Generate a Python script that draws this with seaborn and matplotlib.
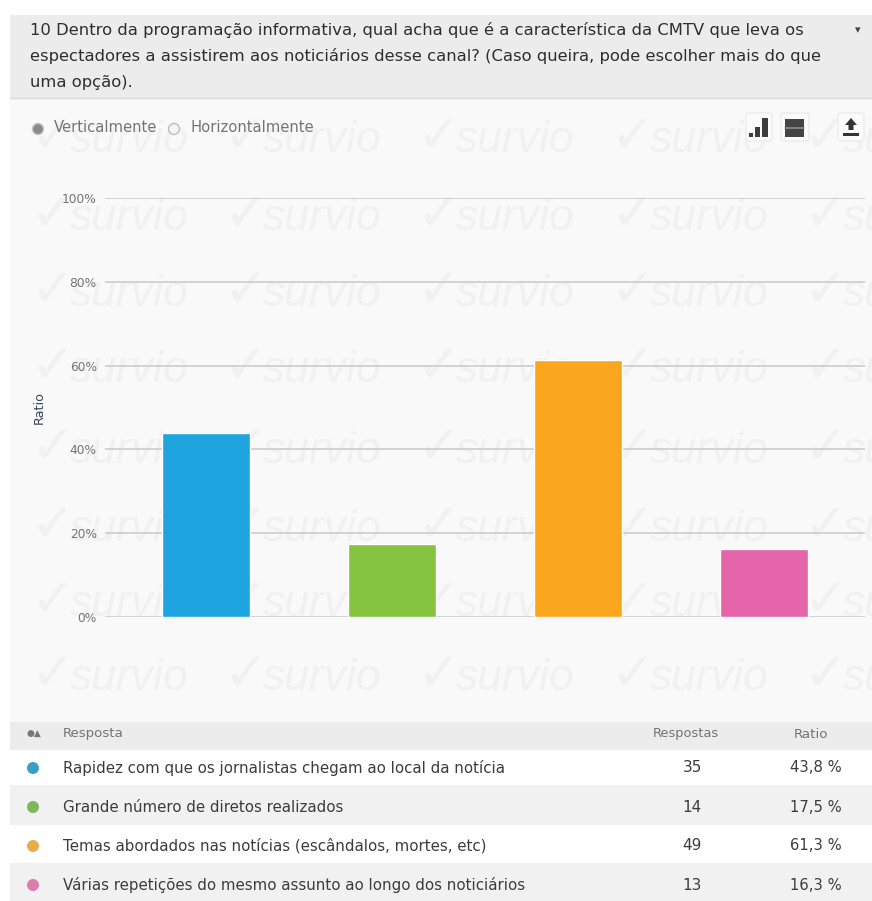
import matplotlib
matplotlib.use("Agg")
import matplotlib.pyplot as plt
from matplotlib.patches import Rectangle, Circle, FancyBboxPatch, Polygon
import pandas as pd
import seaborn as sns

question = [
    "10 Dentro da programação informativa, qual acha que é a característica da CMTV que leva os",
    "espectadores a assistirem aos noticiários desse canal? (Caso queira, pode escolher mais do que",
    "uma opção).",
]
answers = [
    "Rapidez com que os jornalistas chegam ao local da notícia",
    "Grande número de diretos realizados",
    "Temas abordados nas notícias (escândalos, mortes, etc)",
    "Várias repetições do mesmo assunto ao longo dos noticiários",
]
responses = [35, 14, 49, 13]
ratios = [43.8, 17.5, 61.3, 16.3]
ratio_labels = ["43,8 %", "17,5 %", "61,3 %", "16,3 %"]
colors = ["#1ea5df", "#84c441", "#fba61f", "#e565ab"]
dot_colors = ["#3a9fc6", "#7fb85c", "#e6ad48", "#dc7cab"]
y_ticks = [0, 20, 40, 60, 80, 100]

W, H = 872, 901
TEXT = "#3c3c3c"
SOFT = "#747474"
MARK = "#f1f1f1"
sns.set_theme(style="white", rc={"font.family": ["DejaVu Sans"]})

fig = plt.figure(figsize=(W / 100, H / 100), dpi=100, facecolor="white")

# Page layer in pixel coordinates: panels, watermark, table
page = fig.add_axes([0, 0, 1, 1], zorder=0)
page.set_xlim(0, W)
page.set_ylim(H, 0)
page.axis("off")

page.add_patch(Rectangle((10, 97), W - 10, 625, fc="#f9f9f9", ec="none"))
page.add_patch(Rectangle((10, 15), W - 10, 83, fc="#ececec", ec="none"))
page.plot([10, W], [98, 98], color="#dcdcdc", lw=1)

# Repeating watermark sits directly on the chart panel
for row_y in [140, 218, 294, 370, 451, 529, 604, 678]:
    for col_x in [32, 225, 418, 612, 805]:
        page.text(col_x - 2, row_y + 12, "✓", fontsize=38, color=MARK, va="baseline", zorder=1.5)
        page.text(col_x + 38, row_y + 12, "survio", fontsize=32, color=MARK, va="baseline",
                  family="Liberation Sans", style="italic", zorder=1.5)

for line, y in zip(question, [30, 56, 82]):
    page.text(30, y, line, fontsize=11.75, color="#2e2e2e", va="center", zorder=4)
page.text(858, 30, "▾", fontsize=8, color="#444444", ha="center", va="center", zorder=4)

# Orientation switch
page.add_patch(Circle((38, 129), 5.5, fc="#8a8a8a", ec="#c4c4c4", lw=1, zorder=4))
page.text(54, 128, "Verticalmente", fontsize=10.6, color=SOFT, va="center", zorder=4)
page.add_patch(Circle((174, 129), 5.5, fc="#f4f4f4", ec="#bdbdbd", lw=1, zorder=4))
page.text(190, 128, "Horizontalmente", fontsize=10.6, color=SOFT, va="center", zorder=4)

# Toolbar buttons
for left, width in [(746, 26), (781, 28), (838, 26)]:
    page.add_patch(FancyBboxPatch((left, 113), width, 28, boxstyle="round,pad=0,rounding_size=3",
                                  fc="#fbfbfb", ec="#ececec", lw=1, zorder=3))
for x, top, width in [(749, 133, 4), (755, 127, 5), (762, 118, 6)]:
    page.add_patch(Rectangle((x, top), width, 137 - top, fc="#3c3c3c", ec="none", zorder=4))
page.add_patch(Rectangle((785, 119), 19, 18, fc="#444444", ec="none", zorder=4))
page.plot([785, 804], [128, 128], color="#8c8c8c", lw=1.2, zorder=5)
page.add_patch(Polygon([[851, 118], [857, 125], [853.5, 125], [853.5, 130], [848.5, 130],
                        [848.5, 125], [845, 125]], fc="#333333", ec="none", zorder=4))
page.add_patch(Rectangle((843, 133), 16, 3, fc="#333333", ec="none", zorder=4))

# Results table
page.add_patch(Rectangle((10, 722), W - 10, 28, fc="#ececec", ec="none", zorder=3))
row_tops = [750, 785, 825, 863]
row_bottoms = [785, 825, 863, 901]
for top, bottom, fill in zip(row_tops, row_bottoms, ["#ffffff", "#f1f1f1", "#ffffff", "#f1f1f1"]):
    page.add_patch(Rectangle((10, top), W - 10, bottom - top, fc=fill, ec="none", zorder=3))

page.text(34, 733, "●▲", fontsize=6.5, color="#777777", ha="center", va="center", zorder=4)
page.text(63, 734, "Resposta", fontsize=9.6, color=SOFT, va="center", zorder=4)
page.text(686, 734, "Respostas", fontsize=9.4, color=SOFT, ha="center", va="center", zorder=4)
page.text(811, 734, "Ratio", fontsize=9.6, color=SOFT, ha="center", va="center", zorder=4)
for answer, count, label, dot, y in zip(answers, responses, ratio_labels, dot_colors, [768, 807, 846, 885]):
    page.add_patch(Circle((33, y), 6, fc=dot, ec="none", zorder=4))
    page.text(63, y, answer, fontsize=10.8, color=TEXT, va="center", zorder=4)
    page.text(692, y, str(count), fontsize=11, color=TEXT, ha="center", va="center", zorder=4)
    page.text(816, y, label, fontsize=10.6, color=TEXT, ha="center", va="center", zorder=4)

# Bar chart: 0 % sits at y=617 and 100 % at y=198, gridlines span x=105..865
ax = fig.add_axes([105 / W, 1 - 617 / H, 760 / W, 419 / H], zorder=1)
ax.patch.set_alpha(0)
data = pd.DataFrame({"answer": answers, "ratio": ratios})
sns.barplot(data=data, x="answer", y="ratio", hue="answer", palette=colors, dodge=False,
            legend=False, width=0.478, saturation=1, ax=ax, zorder=3)
ax.set_xlim(-0.543, 3.543)
ax.set_ylim(0, 100)
ax.set_yticks(y_ticks)
ax.set_yticklabels([f"{t}%" for t in y_ticks], fontsize=8.8, color=SOFT)
ax.set_xticks([])
ax.set_xlabel("")
ax.set_ylabel("Ratio", fontsize=9.2, color="#33475b")
ax.yaxis.set_label_coords(-0.078, 0.5)
ax.tick_params(axis="y", length=0, pad=6)
ax.grid(axis="y", color="#cfcfcf", lw=1.3, zorder=1)
ax.set_axisbelow(True)
sns.despine(ax=ax, left=True, bottom=True)

fig.savefig("out.png", dpi=100)
